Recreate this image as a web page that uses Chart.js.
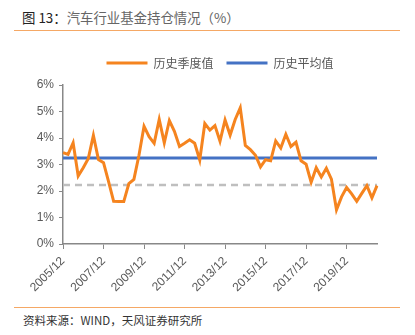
<!DOCTYPE html>
<html><head><meta charset="utf-8">
<script src="https://cdn.jsdelivr.net/npm/chart.js@4.4.0/dist/chart.umd.min.js"></script>
<style>
html,body{margin:0;padding:0;background:#fff;width:415px;height:335px;overflow:hidden;position:relative;font-family:"Noto Sans CJK SC","Liberation Sans",sans-serif;}
#title{position:absolute;left:22px;top:8px;font-size:13.4px;color:#666;line-height:18px;white-space:nowrap}
#title b{font-weight:normal;color:#222}
.rule{position:absolute;left:14px;width:386px;height:0;border-top:1.5px solid #F5A865}
#foot{position:absolute;left:23px;top:312px;font-size:11.5px;color:#333;line-height:16px;white-space:nowrap}
#wrap{position:absolute;left:0;top:0;width:415px;height:300px}
</style></head>
<body>
<div id="title"><b>图 13：</b>汽车行业基金持仓情况（%）</div>
<div class="rule" style="top:30px"></div>
<div id="wrap"><canvas id="c"></canvas></div>
<div class="rule" style="top:307px"></div>
<div id="foot">资料来源：WIND，天风证券研究所</div>
<script>
const quarters = [
 '2005/12',
 '2006/03','2006/06','2006/09','2006/12',
 '2007/03','2007/06','2007/09','2007/12',
 '2008/03','2008/06','2008/09','2008/12',
 '2009/03','2009/06','2009/09','2009/12',
 '2010/03','2010/06','2010/09','2010/12',
 '2011/03','2011/06','2011/09','2011/12',
 '2012/03','2012/06','2012/09','2012/12',
 '2013/03','2013/06','2013/09','2013/12',
 '2014/03','2014/06','2014/09','2014/12',
 '2015/03','2015/06','2015/09','2015/12',
 '2016/03','2016/06','2016/09','2016/12',
 '2017/03','2017/06','2017/09','2017/12',
 '2018/03','2018/06','2018/09','2018/12',
 '2019/03','2019/06','2019/09','2019/12',
 '2020/03','2020/06','2020/09','2020/12',
 '2021/03','2021/06'
];
const quarterlyValues = [
 3.45,
 3.38,3.82,2.57,2.88,
 3.23,4.10,3.19,3.07,
 2.35,1.61,1.60,1.60,
 2.28,2.44,3.35,4.44,
 4.05,3.80,4.70,3.82,
 4.66,4.25,3.68,3.80,
 3.93,3.80,3.17,4.55,
 4.30,4.47,3.88,4.68,
 4.11,4.70,5.14,3.72,
 3.56,3.35,2.91,3.18,
 3.14,3.89,3.62,4.14,
 3.68,3.84,3.14,3.01,
 2.33,2.88,2.53,2.86,
 2.45,1.29,1.78,2.13,
 1.89,1.61,1.91,2.20,
 1.74,2.20
];
const historicalAverage = 3.25;
const referenceLevel = 2.23;
const seriesNames = ['历史季度值','历史平均值'];
const yTickLabels = ['0%','1%','2%','3%','4%','5%','6%'];

const FONT = '"Noto Sans CJK SC","Liberation Sans",sans-serif';
Chart.defaults.font.family = FONT;

const firstQ = quarters[0], lastQ = quarters[quarters.length-1];

const legendShift = {
  id:'legendShift',
  afterLayout(chart){ if(chart.legend){ chart.legend.top -= 6; chart.legend.bottom -= 6; } }
};

new Chart(document.getElementById('c'), {
  type:'line',
  data:{
    labels: quarters,
    datasets:[
      {label:seriesNames[0], data:quarterlyValues, borderColor:'#F5841F', backgroundColor:'#F5841F',
       borderWidth:3, pointRadius:0, tension:0, order:1},
      {label:seriesNames[1], data:[{x:firstQ,y:historicalAverage},{x:lastQ,y:historicalAverage}],
       borderColor:'#4472C4', backgroundColor:'#4472C4', borderWidth:3, pointRadius:0, order:2},
      {label:'ref', data:[{x:firstQ,y:referenceLevel},{x:lastQ,y:referenceLevel}],
       borderColor:'#BFBFBF', backgroundColor:'#BFBFBF', borderWidth:2.5, borderDash:[7,5], pointRadius:0, order:3}
    ]
  },
  options:{
    responsive:true, maintainAspectRatio:false, animation:false, devicePixelRatio:1,
    layout:{padding:{left:0,right:38,top:50,bottom:0}},
    plugins:{
      tooltip:{enabled:false},
      legend:{
        position:'top', fullSize:false,
        labels:{
          boxWidth:41, boxHeight:3, padding:13, color:'#595959', font:{size:12, family:FONT},
          generateLabels:(chart)=>Chart.defaults.plugins.legend.labels.generateLabels(chart)
            .filter(it=>it.datasetIndex<2).map(it=>Object.assign(it,{lineWidth:0}))
        }
      }
    },
    scales:{
      x:{
        type:'category', offset:false,
        grid:{display:true, drawOnChartArea:false, drawTicks:true, tickLength:5, color:'#888', lineWidth:1},
        border:{display:true, color:'#888', width:1.5},
        ticks:{autoSkip:false, minRotation:45, maxRotation:45, padding:5, color:'#595959', font:{size:12, family:'"Liberation Sans",sans-serif'},
          callback:(v,i)=> (i%8===0 ? quarters[i] : null)},
        afterFit:(s)=>{ s.height = 56; }
      },
      y:{
        min:0, max:6,
        grid:{display:true, drawOnChartArea:false, drawTicks:true, tickLength:4, color:'#888', lineWidth:1},
        border:{display:true, color:'#888', width:1.5},
        ticks:{stepSize:1, padding:5, color:'#595959', font:{size:12, family:'"Liberation Sans",sans-serif'},
          callback:(v)=> yTickLabels[Math.round(v)]},
        afterFit:(s)=>{ s.width = 63; }
      }
    }
  },
  plugins:[legendShift]
});
</script>
</body></html>
